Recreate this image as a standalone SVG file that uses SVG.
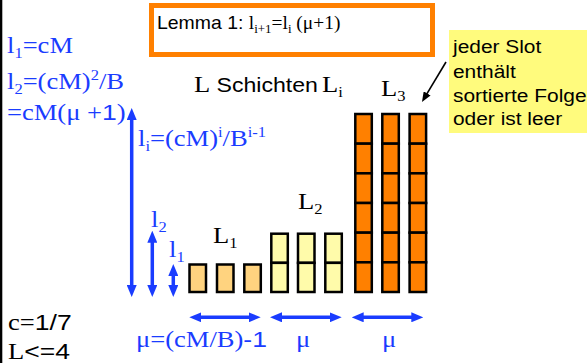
<svg xmlns="http://www.w3.org/2000/svg" width="587" height="363" viewBox="0 0 587 363">
<style>
.t{font-family:"Liberation Serif","Times New Roman",serif;font-size:22.5px}
.a{font-family:"Liberation Sans",Arial,sans-serif}
.b{fill:#1a3cff}
.k{fill:#000}
.s{font-size:14px}
.c1{fill:#FFD37F;stroke:#000;stroke-width:2.5}
.c2{fill:#FFFBAA;stroke:#000;stroke-width:2.5}
.c3{fill:#FF8000;stroke:#000;stroke-width:2.5}
.ar{stroke:#1a3cff;stroke-width:3.5;fill:none;marker-start:url(#bh);marker-end:url(#bh)}
</style>
<defs>
<marker id="bh" viewBox="0 0 12 10" refX="4" refY="5" markerWidth="12" markerHeight="10" markerUnits="userSpaceOnUse" orient="auto-start-reverse"><path d="M0,0L12,5L0,10z" fill="#1a3cff"/></marker>
<marker id="kh" viewBox="0 0 10 8" refX="2" refY="4" markerWidth="10" markerHeight="8" markerUnits="userSpaceOnUse" orient="auto"><path d="M0,0L10,4L0,8z" fill="#000"/></marker>
</defs>
<rect x="0" y="0" width="587" height="363" fill="#fff"/>
<rect x="0" y="0" width="2.3" height="363" fill="#000"/>

<g id="lemma">
<rect x="151.5" y="5.5" width="281" height="49" fill="#fff" stroke="#FF8000" stroke-width="5"/>
<text class="t k" transform="translate(157,29) scale(1.08,1)" style="font-size:18px"><tspan class="a">Lemma 1: </tspan>l<tspan style="font-size:12px" dy="4">i+1</tspan><tspan dy="-4">=l</tspan><tspan style="font-size:12px" dy="4">i</tspan><tspan dy="-4"> (μ+1)</tspan></text>
</g>

<g id="note">
<rect x="449" y="30" width="138" height="103" fill="#FFFB7D"/>
<g class="a k" style="font-size:19px">
<text transform="translate(453,53) scale(1.1,1)">jeder Slot</text>
<text transform="translate(453,77.5) scale(1.1,1)">enthält</text>
<text transform="translate(453,101.5) scale(1.1,1)">sortierte Folge</text>
<text transform="translate(453,124.5) scale(1.1,1)">oder ist leer</text>
</g>
</g>

<g id="title">
<text class="t k" transform="translate(194,92) scale(1.18,1)">L</text>
<text class="a k" style="font-size:21px" transform="translate(216.5,92) scale(1.1,1)">Schichten</text>
<text class="t k" transform="translate(322,92) scale(1.18,1)">L<tspan class="s" dy="5">i</tspan></text>
</g>

<g id="left-formulas" class="t b">
<text transform="translate(7,53) scale(1.18,1)">l<tspan class="s" dy="5">1</tspan><tspan dy="-5">=cM</tspan></text>
<text transform="translate(7,89) scale(1.18,1)">l<tspan class="s" dy="5">2</tspan><tspan dy="-5">=(cM)</tspan><tspan class="s" dy="-9">2</tspan><tspan dy="9">/B</tspan></text>
<text transform="translate(7,120) scale(1.18,1)">=cM(μ +<tspan class="a">1</tspan>)</text>
<text transform="translate(138,146) scale(1.18,1)">l<tspan class="s" dy="5">i</tspan><tspan dy="-5">=(cM)</tspan><tspan class="s" dy="-9">i</tspan><tspan dy="9">/B</tspan><tspan class="s" dy="-9">i-1</tspan></text>
<text transform="translate(151,227) scale(1.18,1)">l<tspan class="s" dy="5">2</tspan></text>
<text transform="translate(169,257) scale(1.18,1)">l<tspan class="s" dy="5">1</tspan></text>
<text transform="translate(136,347) scale(1.18,1)">μ=(cM/B)<tspan class="a">-1</tspan></text>
<text transform="translate(296,347) scale(1.18,1)">μ</text>
<text transform="translate(382,347) scale(1.18,1)">μ</text>
</g>

<g id="bottom-left" class="t k">
<text transform="translate(8,330) scale(1.18,1)">c=<tspan class="a">1/7</tspan></text>
<text transform="translate(8,358.5) scale(1.18,1)">L<tspan class="a">&lt;=4</tspan></text>
</g>

<g id="L1">
<text class="t k" transform="translate(213,243) scale(1.18,1)">L<tspan class="s" dy="5">1</tspan></text>
<rect class="c1" x="189.5" y="264.5" width="16.5" height="27.5"/>
<rect class="c1" x="217" y="264.5" width="16.5" height="27.5"/>
<rect class="c1" x="244.3" y="264.5" width="16.5" height="27.5"/>
</g>

<g id="L2">
<text class="t k" transform="translate(298,209) scale(1.18,1)">L<tspan class="s" dy="5">2</tspan></text>
<rect class="c2" x="271.3" y="233.7" width="16.5" height="29.15"/>
<rect class="c2" x="271.3" y="262.85" width="16.5" height="29.15"/>
<rect class="c2" x="298" y="233.7" width="16.5" height="29.15"/>
<rect class="c2" x="298" y="262.85" width="16.5" height="29.15"/>
<rect class="c2" x="325.3" y="233.7" width="16.5" height="29.15"/>
<rect class="c2" x="325.3" y="262.85" width="16.5" height="29.15"/>
</g>

<g id="L3">
<text class="t k" transform="translate(381,96) scale(1.18,1)">L<tspan class="s" dy="5">3</tspan></text>
<rect class="c3" x="355.3" y="114" width="16.5" height="29.67"/>
<rect class="c3" x="355.3" y="143.67" width="16.5" height="29.67"/>
<rect class="c3" x="355.3" y="173.33" width="16.5" height="29.67"/>
<rect class="c3" x="355.3" y="203" width="16.5" height="29.67"/>
<rect class="c3" x="355.3" y="232.67" width="16.5" height="29.67"/>
<rect class="c3" x="355.3" y="262.33" width="16.5" height="29.67"/>
<rect class="c3" x="382.3" y="114" width="16.5" height="29.67"/>
<rect class="c3" x="382.3" y="143.67" width="16.5" height="29.67"/>
<rect class="c3" x="382.3" y="173.33" width="16.5" height="29.67"/>
<rect class="c3" x="382.3" y="203" width="16.5" height="29.67"/>
<rect class="c3" x="382.3" y="232.67" width="16.5" height="29.67"/>
<rect class="c3" x="382.3" y="262.33" width="16.5" height="29.67"/>
<rect class="c3" x="409.6" y="114" width="16.5" height="29.67"/>
<rect class="c3" x="409.6" y="143.67" width="16.5" height="29.67"/>
<rect class="c3" x="409.6" y="173.33" width="16.5" height="29.67"/>
<rect class="c3" x="409.6" y="203" width="16.5" height="29.67"/>
<rect class="c3" x="409.6" y="232.67" width="16.5" height="29.67"/>
<rect class="c3" x="409.6" y="262.33" width="16.5" height="29.67"/>
</g>

<g id="connectors">
<line x1="446" y1="62" x2="426.1" y2="95.1" stroke="#000" stroke-width="1.6" marker-end="url(#kh)"/>
<line class="ar" x1="131.7" y1="116" x2="131.7" y2="289"/>
<line class="ar" x1="152.3" y1="238.7" x2="152.3" y2="289"/>
<line class="ar" x1="173.3" y1="272" x2="173.3" y2="289"/>
<line class="ar" x1="197.3" y1="317.3" x2="252.7" y2="317.3"/>
<line class="ar" x1="278" y1="317.3" x2="333.7" y2="317.3"/>
<line class="ar" x1="359.7" y1="317.3" x2="415.3" y2="317.3"/>
</g>
</svg>
